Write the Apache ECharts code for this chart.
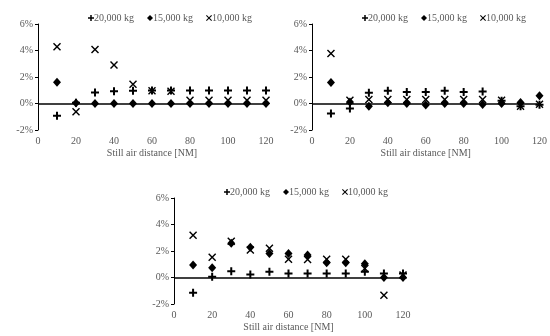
<!DOCTYPE html>
<html><head><meta charset="utf-8">
<script src="https://cdn.jsdelivr.net/npm/echarts@6/dist/echarts.min.js"></script>
<style>html,body{margin:0;padding:0;background:#fff}#c{width:550px;height:336px}</style>
</head><body><div id="c"></div>
<script>
const distances = [10,20,30,40,50,60,70,80,90,100,110,120];
const xTicks = [0,20,40,60,80,100,120];
const yTicks = [-2,0,2,4,6];
const seriesNames = ['20,000 kg','15,000 kg','10,000 kg'];
// Panel 1 (top-left)
const p1_20000 = [-0.93,0.05,0.83,0.93,0.96,0.98,0.98,0.98,0.98,0.98,0.98,0.98];
const p1_15000 = [1.61,0.03,0,0,0,0,0,0,0,0,0,0];
const p1_10000 = [4.28,-0.63,4.08,2.9,1.46,0.96,0.93,0.25,0.25,0.25,0.25,0.25];
// Panel 2 (top-right)
const p2_20000 = [-0.76,-0.38,0.81,0.96,0.86,0.86,0.96,0.86,0.9,0.2,-0.2,-0.1];
const p2_15000 = [1.59,0.12,-0.2,0.05,0,-0.12,0,0,-0.08,0,0.08,0.58];
const p2_10000 = [3.78,0.25,0.3,0.3,0.3,0.3,0.3,0.3,0.3,0.25,-0.2,-0.05];
// Panel 3 (bottom)
const p3_20000 = [-1.16,0.05,0.48,0.23,0.43,0.3,0.3,0.3,0.3,0.43,0.3,0.3];
const p3_15000 = [0.94,0.73,2.58,2.28,1.82,1.82,1.7,1.11,1.11,1.04,0,0];
const p3_10000 = [3.19,1.52,2.73,2.08,2.2,1.37,1.35,1.37,1.37,0.68,-1.34,0.18];

const PLUS = 'path://M3,0H5V3H8V5H5V8H3V5H0V3H3Z';
const CROSS = 'path://M1,0L4,3L7,0L8,1L5,4L8,7L7,8L4,5L1,8L0,7L3,4L0,1Z';
const symbols = [PLUS,'diamond',CROSS];
const sizes = [[8,8],[8,9],[8,8]];
const panels = [[p1_20000,p1_15000,p1_10000],[p2_20000,p2_15000,p2_10000],[p3_20000,p3_15000,p3_10000]];

const grids = [
  {left:38,right:284,top:24,bottom:206},
  {left:312,right:9,top:24,bottom:206},
  {left:174,right:147,top:198,bottom:32}
];
const legendPos = [{left:83,top:8},{left:357,top:8},{left:219,top:182}];
const font = 'Liberation Serif';
const grey = '#595959';

const option = {
  animation:false,
  backgroundColor:'#fff',
  grid: grids,
  legend: legendPos.map(p=>({
    left:p.left, top:p.top, width:260, orient:'horizontal',
    itemWidth:6, itemHeight:6, itemGap:13,
    textStyle:{fontFamily:font,fontSize:10,color:grey,padding:[0,0,0,-5]},
    data: seriesNames.map((n,i)=>({name:n,icon:symbols[i]}))
  })),
  xAxis: grids.map((g,i)=>({
    type:'value', gridIndex:i, min:0, max:120, interval:20,
    axisLine:{show:false}, axisTick:{show:false}, splitLine:{show:false},
    axisLabel:{fontFamily:font,fontSize:10,color:grey,margin:6},
    name:'Still air distance [NM]', nameLocation:'middle', nameGap:18,
    nameTextStyle:{fontFamily:font,fontSize:10,color:grey}
  })),
  yAxis: grids.map((g,i)=>({
    type:'value', gridIndex:i, min:yTicks[0], max:yTicks[yTicks.length-1], interval:2,
    axisLine:{show:true,onZero:false,lineStyle:{color:'#000',width:1}},
    axisTick:{show:true,length:3,lineStyle:{color:'#000'}},
    splitLine:{show:false},
    axisLabel:{fontFamily:font,fontSize:10,color:grey,margin:5,formatter:'{value}%'}
  })),
  series: []
};
panels.forEach((pd,pi)=>{
  pd.forEach((vals,si)=>{
    const s = {
      type:'scatter', name:seriesNames[si], xAxisIndex:pi, yAxisIndex:pi,
      symbol:symbols[si], symbolSize:sizes[si],
      itemStyle:{color:'#000',opacity:1},
      data: distances.map((d,k)=>[d,vals[k]])
    };
    if(si===0){
      s.markLine = {silent:true,symbol:'none',label:{show:false},
        lineStyle:{color:'#000',width:1.5,type:'solid'},data:[{yAxis:0}]};
      s.z = 1;
    }
    option.series.push(s);
  });
});
const chart = echarts.init(document.getElementById('c'),null,{renderer:'canvas'});
chart.setOption(option);
</script></body></html>
